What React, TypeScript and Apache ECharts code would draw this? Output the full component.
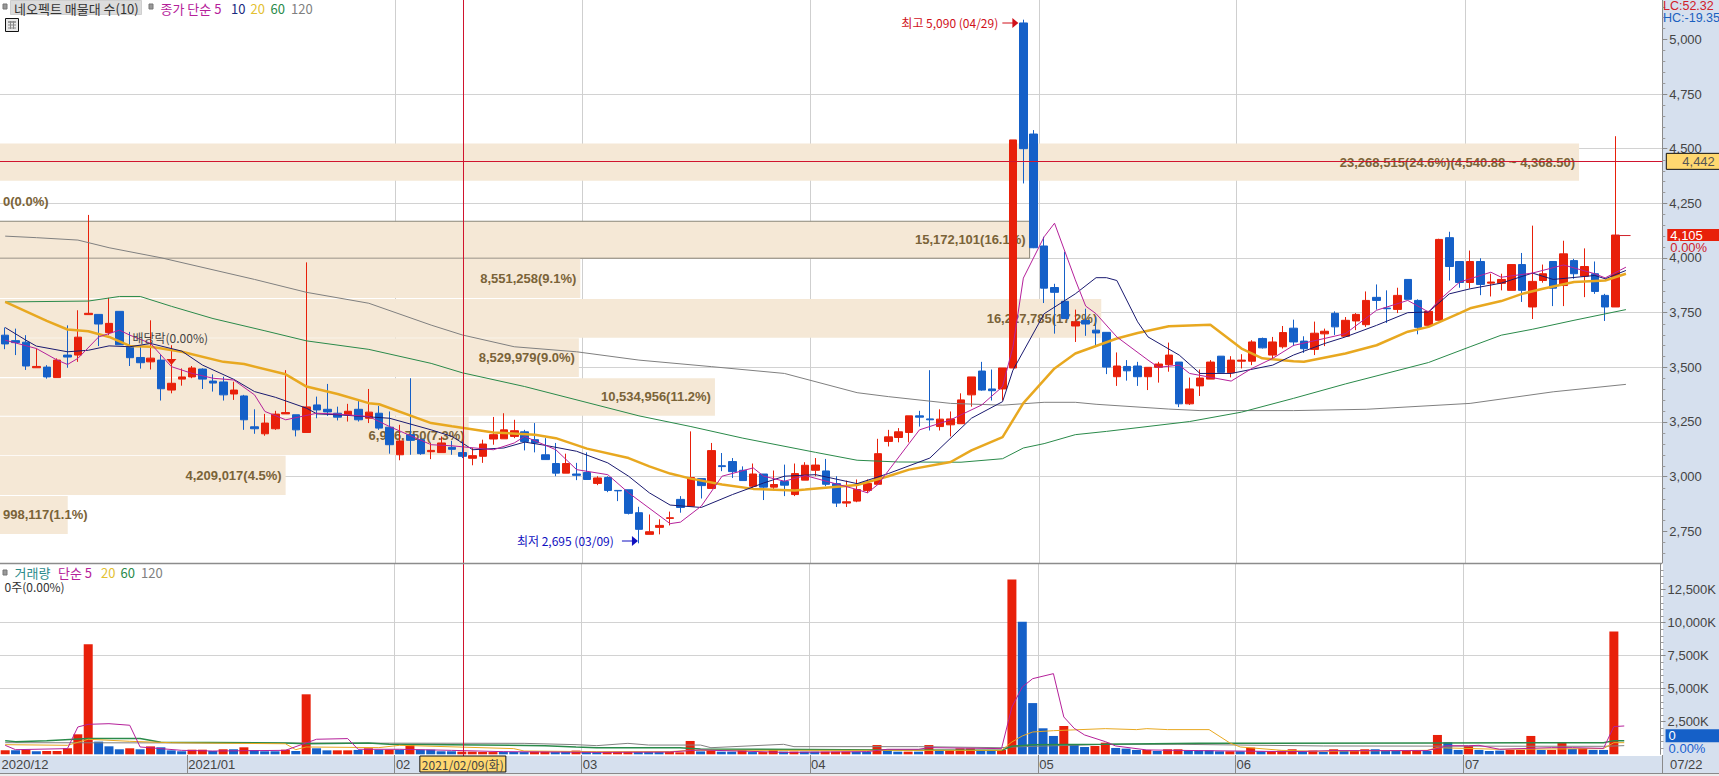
import React, { useEffect, useRef } from "react";
import * as echarts from "echarts";

// [open, high, low, close], one row per session
const candles: number[][] = [
  [3647,3682,3583,3607],[3622,3677,3556,3613],[3615,3647,3488,3506],[3498,3586,3498,3504],[3501,3510,3448,3456],
  [3453,3541,3453,3533],[3556,3692,3498,3547],[3556,3761,3525,3638],[3741,4197,3741,3747],[3742,3742,3597,3698],
  [3659,3818,3647,3701],[3756,3756,3603,3603],[3592,3662,3506,3544],[3545,3601,3494,3521],[3525,3715,3490,3542],
  [3533,3556,3348,3402],[3396,3601,3381,3427],[3446,3495,3416,3456],[3456,3506,3450,3497],[3492,3495,3401,3446],
  [3437,3468,3389,3428],[3433,3457,3348,3374],[3378,3434,3351,3396],[3369,3374,3214,3260],[3228,3308,3196,3219],
  [3196,3287,3187,3245],[3219,3301,3214,3286],[3287,3487,3287,3293],[3283,3283,3184,3214],[3202,3980,3202,3319],
  [3328,3366,3267,3305],[3308,3424,3278,3296],[3290,3320,3257,3272],[3283,3333,3252,3299],[3308,3351,3252,3260],
  [3267,3401,3245,3295],[3290,3324,3214,3222],[3226,3298,3105,3146],[3100,3237,3075,3163],[3192,3450,3100,3166],
  [3169,3176,3100,3105],[3114,3154,3080,3120],[3110,3184,3110,3154],[3134,3164,3100,3125],[3110,3161,3085,3093],
  [3084,3131,3052,3096],[3093,3169,3063,3149],[3172,3273,3146,3192],[3173,3290,3173,3214],[3184,3260,3176,3210],
  [3205,3214,3120,3161],[3169,3245,3111,3154],[3100,3176,3078,3078],[3060,3154,3002,3016],[3016,3105,3016,3060],
  [3012,3063,2984,3006],[3019,3111,2987,2987],[2969,3002,2961,2994],[2996,3002,2929,2937],[2937,2937,2888,2935],
  [2940,2940,2827,2832],[2835,2862,2695,2759],[2736,2827,2736,2748],[2768,2805,2736,2777],[2809,2840,2777,2812],
  [2896,2911,2835,2859],[2865,3207,2865,2996],[2991,2991,2900,2959],[2946,3154,2946,3119],[3050,3108,3025,3046],
  [3069,3085,2994,3023],[3029,3047,2982,2982],[2956,3060,2949,3012],[3012,3012,2893,2952],[2952,3028,2937,2964],
  [2978,3055,2911,2961],[2918,3060,2911,3014],[2984,3066,2984,3052],[3029,3085,3002,3053],[3026,3081,2956,2965],
  [2968,3002,2861,2879],[2879,2982,2861,2885],[2888,2987,2883,2941],[2937,2987,2926,2969],[2965,3173,2965,3105],
  [3161,3214,3138,3182],[3179,3222,3157,3205],[3202,3278,3157,3278],[3278,3301,3229,3272],[3264,3487,3211,3260],
  [3229,3308,3211,3263],[3237,3298,3184,3264],[3242,3381,3242,3351],[3374,3456,3320,3456],[3483,3525,3393,3396],
  [3401,3490,3348,3393],[3401,3497,3348,3497],[3497,4540,3497,4540],[5075,5090,4341,4500],[4567,4585,4045,4047],
  [4055,4097,3794,3862],[3865,3882,3654,3843],[3802,4029,3723,3723],[3689,3764,3616,3708],[3714,3768,3644,3698],
  [3670,3730,3598,3657],[3660,3660,3469,3501],[3457,3568,3415,3506],[3504,3533,3439,3484],[3506,3525,3415,3457],
  [3457,3500,3396,3500],[3500,3525,3430,3515],[3512,3613,3480,3556],[3524,3524,3318,3333],[3333,3453,3328,3401],
  [3415,3490,3369,3451],[3446,3533,3446,3524],[3551,3551,3477,3477],[3475,3551,3454,3533],[3528,3560,3495,3533],
  [3528,3624,3510,3616],[3632,3636,3586,3589],[3556,3639,3541,3616],[3594,3689,3586,3659],[3679,3718,3597,3616],
  [3620,3642,3566,3585],[3582,3709,3556,3656],[3653,3677,3597,3665],[3747,3756,3648,3685],[3642,3730,3642,3715],
  [3712,3748,3670,3742],[3695,3847,3685,3806],[3820,3879,3764,3806],[3771,3852,3703,3768],[3765,3864,3748,3829],
  [3902,3902,3811,3811],[3806,3811,3651,3683],[3692,3756,3685,3756],[3715,4088,3715,4085],[4093,4120,3897,3961],
  [3984,3984,3864,3888],[3888,4034,3861,3984],[3984,3999,3830,3879],[3885,3928,3824,3890],[3884,3928,3852,3902],
  [3852,3970,3852,3970],[3970,4023,3799,3852],[3776,4148,3721,3893],[3897,3970,3887,3928],[3984,3984,3780,3862],
  [3874,4079,3780,4019],[3988,3996,3905,3928],[3917,4044,3821,3961],[3928,3984,3836,3847],[3829,3836,3712,3776],
  [3776,4557,3776,4105],
];

// [session, price] vertices
const ma5: number[][] = [[0,3624],[3,3586],[5,3533],[6,3513],[7,3541],[9,3639],[11,3670],[12,3647],[14,3609],[16,3503],[18,3472],[20,3450],[22,3442],[24,3374],[25,3298],[27,3260],[30,3290],[32,3286],[35,3275],[37,3229],[41,3146],[43,3141],[47,3123],[49,3154],[50,3184],[53,3123],[55,3032],[58,3009],[60,2926],[64,2785],[65,2792],[67,2865],[69,3002],[72,3040],[73,3002],[75,2979],[77,3005],[82,2941],[83,2926],[84,2964],[88,3214],[91,3260],[94,3328],[96,3412],[97,3594],[98,3908],[100,4097],[101,4159],[103,3900],[104,3780],[105,3745],[107,3639],[110,3533],[111,3500],[113,3510],[114,3472],[118,3437],[120,3495],[122,3541],[124,3600],[127,3632],[129,3654],[132,3761],[135,3806],[137,3753],[138,3806],[140,3890],[143,3935],[144,3912],[147,3931],[150,3968],[153,3928],[154,3909],[156,3958]];
const ma10: number[][] = [[0,3682],[2,3624],[3,3597],[6,3571],[8,3578],[10,3598],[12,3594],[14,3609],[17,3574],[19,3510],[22,3445],[24,3389],[26,3363],[29,3313],[30,3287],[32,3283],[37,3267],[41,3214],[43,3184],[44,3154],[45,3123],[48,3131],[50,3158],[52,3143],[55,3116],[58,3063],[60,3002],[62,2926],[64,2870],[67,2859],[70,2918],[72,2953],[73,2971],[75,3002],[78,3009],[82,2968],[85,3014],[89,3085],[93,3267],[96,3343],[97,3487],[100,3745],[103,3836],[105,3910],[106,3910],[107,3897],[109,3708],[110,3639],[113,3556],[115,3472],[118,3472],[122,3510],[124,3556],[127,3609],[129,3639],[132,3692],[135,3750],[137,3753],[139,3836],[141,3859],[144,3885],[147,3931],[149,3902],[153,3920],[154,3905],[156,3943]];
const ma20: number[][] = [[0,3799],[4,3712],[6,3673],[8,3665],[10,3639],[12,3598],[14,3594],[17,3571],[21,3525],[23,3515],[27,3468],[29,3412],[32,3378],[35,3336],[36,3331],[41,3245],[43,3230],[47,3202],[51,3192],[53,3176],[56,3128],[60,3085],[62,3047],[64,3014],[66,2991],[69,2964],[72,2944],[76,2937],[77,2941],[82,2962],[85,3002],[87,3032],[91,3067],[93,3120],[96,3181],[98,3336],[101,3495],[103,3563],[107,3632],[109,3657],[112,3688],[116,3695],[119,3586],[121,3541],[124,3528],[125,3525],[129,3563],[132,3601],[135,3663],[137,3685],[140,3748],[141,3770],[144,3803],[146,3836],[148,3859],[151,3890],[154,3897],[156,3928]];
const ma60: number[][] = [[0,3799],[8,3803],[11,3824],[13,3824],[16,3779],[20,3723],[25,3667],[29,3621],[35,3582],[41,3518],[44,3475],[50,3412],[56,3339],[61,3278],[66,3229],[71,3176],[78,3111],[82,3075],[86,3067],[92,3066],[96,3082],[98,3131],[100,3151],[103,3192],[106,3207],[114,3252],[119,3295],[124,3358],[129,3424],[137,3522],[141,3594],[144,3647],[147,3674],[151,3715],[156,3764]];
const ma120: number[][] = [[0,4100],[3,4093],[7,4082],[10,4047],[15,4001],[24,3902],[29,3843],[35,3793],[41,3693],[44,3648],[49,3594],[55,3571],[61,3533],[68,3503],[75,3472],[82,3384],[85,3366],[91,3335],[96,3327],[100,3340],[103,3340],[105,3331],[112,3309],[115,3302],[124,3302],[131,3308],[141,3335],[149,3388],[156,3422]];

// volume in thousands, and whether the bar was drawn red (R) or blue (B)
const volumes = [
  300,300,350,230,250,250,450,1515,8330,960,
  606,380,455,380,600,530,300,230,350,350,
  250,380,380,530,330,230,230,350,250,4545,
  455,300,300,300,330,455,350,350,350,730,
  350,350,230,230,200,200,180,170,200,170,
  170,200,200,170,200,280,200,180,180,180,
  180,180,180,180,200,150,1010,220,330,200,
  200,330,170,170,330,200,200,200,200,200,
  200,200,200,200,700,330,200,200,200,700,
  330,330,450,450,330,330,330,13250,10050,3880,
  1970,1390,2146,757,555,630,880,480,430,330,
  330,250,380,380,300,300,300,230,230,230,
  505,230,230,280,380,250,280,180,380,250,
  280,380,380,250,250,280,280,250,1465,910,
  330,630,330,250,280,330,330,1390,330,330,
  880,400,450,330,330,9300,
];
const volumeColours =
  "RBRBRRRRRB" + "BBRBRBBBRR" + "BRBRBBBRBR" + "BBRRBRBRBR" + "BBBBRRRRBB" +
  "BRRBBRBBRR" + "RBBBRRRBRB" + "BRBRRBRBBR" + "RRBBRBBRBR" + "BRRRBBRRBB" +
  "BBRBBRRBBB" + "RBRRBBBBRB" + "RBRRRBRBRB" + "RRBBBRRBRB" + "BRBBBRRRBR" + "RBRBBR";

const volMa5: number[][] = [[0,680],[1,350],[6,430],[7,2070],[8,2270],[10,2320],[12,2200],[13,555],[17,300],[20,250],[27,300],[29,860],[30,1140],[33,1190],[34,380],[38,380],[43,300],[48,200],[57,150],[64,170],[66,280],[67,330],[75,150],[83,200],[85,380],[88,380],[89,505],[96,430],[97,3585],[98,5100],[99,5730],[101,6110],[102,2830],[103,1970],[104,1465],[106,960],[107,630],[110,330],[115,280],[124,200],[128,280],[137,280],[138,450],[139,650],[141,650],[142,680],[144,380],[149,505],[151,505],[154,450],[155,2100],[156,2146]];
const volMa20: number[][] = [[0,730],[6,680],[8,1140],[12,985],[16,880],[22,830],[27,800],[28,350],[29,555],[36,505],[38,680],[49,430],[50,250],[57,200],[64,200],[66,300],[96,300],[97,935],[98,1390],[99,1690],[101,1790],[106,1945],[109,1870],[110,1945],[112,1870],[116,1870],[118,860],[119,555],[123,300],[126,230],[137,300],[138,500],[144,380],[154,430],[155,880],[156,880]];
const volMa60: number[][] = [[0,1035],[1,960],[4,1035],[8,1190],[13,1190],[15,910],[27,860],[29,800],[35,860],[37,760],[52,655],[55,555],[57,505],[65,505],[67,400],[85,330],[96,300],[97,605],[99,730],[106,760],[115,830],[138,860],[154,880],[155,1035],[156,1035]];
const volMa120: number[][] = [[0,880],[20,860],[50,830],[55,730],[57,655],[60,830],[62,700],[67,700],[68,500],[75,757],[76,580],[88,580],[96,500],[97,555],[106,757],[113,757],[127,630],[154,605],[156,655]];

const priceTicks = [2750, 3000, 3250, 3500, 3750, 4000, 4250, 4500, 4750, 5000];
const volumeTicks = [2500, 5000, 7500, 10000, 12500];
const priceMinorTicks = [2650,2700,2800,2850,2900,2950,3050,3100,3150,3200,3300,3350,3400,3450,3550,3600,3650,3700,3800,3850,3900,3950,4050,4100,4150,4200,4300,4350,4400,4450,4550,4600,4650,4700,4800,4850,4900,4950,5050,5100,5150];
const volumeMinorTicks = [500,1000,1500,2000,3000,3500,4000,4500,5500,6000,6500,7000,8000,8500,9000,9500,10500,11000,11500,12000,13000,13500,14000];

const monthStarts = [0, 18, 38, 56, 78, 100, 119, 141];
const monthLabels = ["2020/12", "2021/01", "02", "03", "04", "05", "06", "07"];
const lastAxisLabel = "07/22";
const categories = Array.from({ length: 160 }, (_, i) => String(i));

// volume-by-price rows: shares, price at top of row, price at bottom of row, caption
const bandVolumes = [23268515, 0, 15172101, 8551258, 16227785, 8529979, 10534956, 6906750, 4209017, 998117];
const bandTops = [4524, 4352, 4168, 3996, 3812, 3633, 3450, 3274, 3096, 2912];
const bandBottoms = [4353, 4169, 3999, 3817, 3635, 3456, 3279, 3099, 2916, 2738];
const bandLabels = [
  "23,268,515(24.6%)(4,540.88 ~ 4,368.50)", "0(0.0%)", "15,172,101(16.1%)", "8,551,258(9.1%)",
  "16,227,785(17.2%)", "8,529,979(9.0%)", "10,534,956(11.2%)", "6,906,750(7.3%)", "4,209,017(4.5%)", "998,117(1.1%)",
];
const crossIndex = 44;
const crossPrice = 4442;
const lastIndex = 155;
const lastPrice = 4105;
const highPoint = [98, 5090];
const lowPoint = [61, 2695];
const dividendPoint = [16, 3601];

const RED = "#e8200a";
const BLUE = "#1560c8";
const STRIP = "#d6e0ee";
const NARROW = '"Liberation Sans Narrow","Liberation Sans",sans-serif';
const KR = '"Noto Sans CJK KR",sans-serif';
const fmt = (v: number) => Math.round(v).toLocaleString("en-US");

function txt(text: string, x: number, y: number, fill: string, font: string, align = "left") {
  return { type: "text", silent: true, z: 50, style: { text, x, y, fill, font, align, textAlign: align, verticalAlign: "middle", textVerticalAlign: "middle" } };
}

function lineSeries(name: string, data: number[][], color: string, width: number, x: number, y: number, z = 6) {
  return { name, type: "line", data, xAxisIndex: x, yAxisIndex: y, showSymbol: false, symbol: "none", silent: true, z, lineStyle: { color, width }, itemStyle: { color } };
}

function minorTickSeries(values: number[], axis: number) {
  return {
    type: "custom", xAxisIndex: axis, yAxisIndex: axis, z: 25, silent: true,
    encode: { x: 0, y: 1 },
    data: values.map((v) => [0, v]),
    renderItem(params: any, api: any) {
      const y = Math.round(api.coord([0, api.value(1)])[1]) + 0.5;
      const right = params.coordSys.x + params.coordSys.width;
      return { type: "line", shape: { x1: right, y1: y, x2: right + 3, y2: y }, style: { stroke: "#9a9a9a", lineWidth: 1 } };
    },
  };
}

function buildOption() {
  const graphic: any[] = [
    { type: "rect", silent: true, z: -5, shape: { x: 1663, y: 0, width: 56, height: 776 }, style: { fill: STRIP } },
    { type: "rect", silent: true, z: -5, shape: { x: 0, y: 756, width: 1719, height: 17 }, style: { fill: STRIP } },
    { type: "rect", silent: true, z: -4, shape: { x: 0, y: 773, width: 1719, height: 3 }, style: { fill: "#ececec" } },
    { type: "line", silent: true, z: -3, shape: { x1: 0, y1: 773.5, x2: 1719, y2: 773.5 }, style: { stroke: "#8a8a8a", lineWidth: 1 } },
    { type: "line", silent: true, z: 40, shape: { x1: 0, y1: 563.5, x2: 1662, y2: 563.5 }, style: { stroke: "#8c8c8c", lineWidth: 1.5 } },
    { type: "line", silent: true, z: 1, shape: { x1: 1662.5, y1: 755, x2: 1662.5, y2: 773 }, style: { stroke: "#8a8a8a", lineWidth: 1 } },
    { type: "rect", silent: true, z: 40, shape: { x: 3, y: 4, width: 4, height: 5 }, style: { fill: "#999", stroke: "#777" } },
    { type: "rect", silent: true, z: 40, shape: { x: 10.5, y: 0.5, width: 131, height: 14 }, style: { fill: "#dcdcdc", stroke: "#cfcfcf" } },
    txt("네오펙트 매물대 수(10)", 14, 8, "#333", "13px " + KR),
    { type: "rect", silent: true, z: 40, shape: { x: 149, y: 4, width: 4, height: 5 }, style: { fill: "#999", stroke: "#777" } },
    txt("종가 단순 5", 160.5, 8, "#b5209a", "13px " + KR),
    txt("10", 231, 8, "#1a2a80", "13px " + KR),
    txt("20", 250.5, 8, "#e3c030", "13px " + KR),
    txt("60", 270.5, 8, "#2a8a4a", "13px " + KR),
    txt("120", 291, 8, "#808080", "13px " + KR),
    { type: "rect", silent: true, z: 40, shape: { x: 5.5, y: 18.5, width: 13, height: 13 }, style: { fill: "#e8e8e8", stroke: "#111", lineWidth: 1 } },
    { type: "line", silent: true, z: 41, shape: { x1: 8, y1: 22, x2: 16, y2: 22 }, style: { stroke: "#555" } },
    { type: "line", silent: true, z: 41, shape: { x1: 8, y1: 25, x2: 16, y2: 25 }, style: { stroke: "#888" } },
    { type: "line", silent: true, z: 41, shape: { x1: 8, y1: 28, x2: 16, y2: 28 }, style: { stroke: "#888" } },
    { type: "line", silent: true, z: 41, shape: { x1: 10.5, y1: 21, x2: 10.5, y2: 29 }, style: { stroke: "#888" } },
    { type: "line", silent: true, z: 41, shape: { x1: 13.5, y1: 21, x2: 13.5, y2: 29 }, style: { stroke: "#888" } },
    { type: "rect", silent: true, z: 40, shape: { x: 3, y: 570, width: 4, height: 5 }, style: { fill: "#999", stroke: "#777" } },
    txt("거래량", 14.5, 572, "#2a8a8a", "13px " + KR),
    txt("단순 5", 58, 572, "#b5209a", "13px " + KR),
    txt("20", 101, 572, "#e3c030", "13px " + KR),
    txt("60", 120.5, 572, "#2a8a4a", "13px " + KR),
    txt("120", 141, 572, "#808080", "13px " + KR),
    txt("0주(0.00%)", 4.5, 586, "#333", "12px " + KR),
    txt("LC:52.32", 1663, 6, "#d0202a", "12.5px " + NARROW),
    txt("HC:-19.35", 1663, 18, "#1a60c0", "12.5px " + NARROW),
    txt(lastAxisLabel, 1670, 764.5, "#444", "13px " + NARROW),
  ];

  const bandSeries = {
    type: "custom", xAxisIndex: 2, yAxisIndex: 0, z: 1, silent: true,
    encode: { x: 0, y: 1 },
    data: bandVolumes.map((v, i) => [v, bandTops[i], bandBottoms[i]]),
    renderItem(params: any, api: any) {
      const i = params.dataIndex;
      const v = api.value(0);
      const a = api.coord([v, api.value(1)]);
      const b = api.coord([v, api.value(2)]);
      const left = params.coordSys.x;
      const children: any[] = [];
      if (v > 0) children.push({ type: "rect", shape: { x: left - 1, y: a[1], width: a[0] - left + 1, height: b[1] - a[1] }, style: i === 2 ? { fill: "#f5e8d6", stroke: "#8b8678", lineWidth: 1 } : { fill: "#f5e8d6" } });
      const narrow = v < 1500000;
      children.push(txt(bandLabels[i], narrow ? 3 : a[0] - 4, (a[1] + b[1]) / 2, "#7a6338", 'bold 13px "Liberation Sans",sans-serif', narrow ? "left" : "right"));
      return { type: "group", children };
    },
  };

  const candleSeries = {
    type: "candlestick", xAxisIndex: 0, yAxisIndex: 0, z: 5, silent: true, barWidth: 8,
    data: candles.map(([o, h, l, c]) => [o, c, l, h]),
    itemStyle: { color: RED, color0: BLUE, borderColor: RED, borderColor0: BLUE, borderWidth: 1 },
  };

  const volumeSeries = {
    type: "bar", xAxisIndex: 1, yAxisIndex: 1, z: 3, silent: true, barWidth: 9,
    data: volumes.map((v, i) => ({ value: v, itemStyle: { color: volumeColours[i] === "R" ? RED : BLUE } })),
  };

  const notes = {
    type: "custom", xAxisIndex: 0, yAxisIndex: 0, z: 12, silent: true,
    encode: { x: 0, y: 1 },
    data: [[highPoint[0], highPoint[1], 0], [lowPoint[0], lowPoint[1], 1], [dividendPoint[0], dividendPoint[1], 2], [lastIndex, lastPrice, 3]],
    renderItem(params: any, api: any) {
      const kind = api.value(2);
      const p = api.coord([api.value(0), api.value(1)]);
      if (kind === 0) {
        const c = "#d0101a";
        return { type: "group", children: [
          txt("최고 5,090 (04/29)", p[0] - 122, 22, c, "12px " + KR),
          { type: "line", shape: { x1: p[0] - 21, y1: 23, x2: p[0] - 9, y2: 23 }, style: { stroke: c, lineWidth: 1 } },
          { type: "polygon", shape: { points: [[p[0] - 11, 18], [p[0] - 5, 23], [p[0] - 11, 28]] }, style: { fill: c } },
        ] };
      }
      if (kind === 1) {
        const c = "#1010c0";
        const y = 540;
        return { type: "group", children: [
          txt("최저 2,695 (03/09)", p[0] - 122, y, c, "12px " + KR),
          { type: "line", shape: { x1: p[0] - 17, y1: y + 1, x2: p[0] - 5, y2: y + 1 }, style: { stroke: c, lineWidth: 1 } },
          { type: "polygon", shape: { points: [[p[0] - 7, y - 4], [p[0] - 1, y + 1], [p[0] - 7, y + 6]] }, style: { fill: c } },
        ] };
      }
      if (kind === 2) {
        return { type: "group", children: [
          txt("배당락(0.00%)", p[0] - 39, 337, "#444", "12px " + KR),
          { type: "polygon", shape: { points: [[p[0] - 5, 359], [p[0] + 5, 359], [p[0], 365]] }, style: { fill: RED } },
        ] };
      }
      return { type: "line", shape: { x1: p[0], y1: p[1] + 0.5, x2: p[0] + 15, y2: p[1] + 0.5 }, style: { stroke: "#d0202a", lineWidth: 1 } };
    },
  };

  const crosshair = {
    type: "custom", xAxisIndex: 0, yAxisIndex: 0, z: 20, silent: true,
    encode: { x: 0, y: 1 },
    data: [[crossIndex, crossPrice]],
    renderItem(params: any, api: any) {
      const p = api.coord([api.value(0), api.value(1)]);
      const cs = params.coordSys;
      const x = Math.round(p[0]) + 1.5;
      const y = Math.round(p[1]) + 0.5;
      return { type: "group", children: [
        { type: "line", shape: { x1: x, y1: 0, x2: x, y2: 756 }, style: { stroke: "#d0142e", lineWidth: 1 } },
        { type: "line", shape: { x1: 0, y1: y, x2: cs.x + cs.width, y2: y }, style: { stroke: "#d0142e", lineWidth: 1 } },
      ] };
    },
  };

  const priceTags = {
    type: "custom", xAxisIndex: 0, yAxisIndex: 0, z: 30, silent: true,
    encode: { x: 0, y: 1 },
    data: [[crossIndex, crossPrice, 0], [lastIndex, lastPrice, 1]],
    renderItem(params: any, api: any) {
      const y = api.coord([api.value(0), api.value(1)])[1];
      const right = params.coordSys.x + params.coordSys.width;
      if (api.value(2) === 0) {
        return { type: "group", children: [
          { type: "rect", shape: { x: right + 4, y: y - 8, width: 60, height: 16 }, style: { fill: "#ffd870", stroke: "#111", lineWidth: 1 } },
          txt(fmt(api.value(1)), right + 20, y, "#555", "13px " + NARROW),
        ] };
      }
      return { type: "group", children: [
        { type: "rect", shape: { x: right + 5, y: y - 6, width: 60, height: 12 }, style: { fill: RED } },
        txt(fmt(api.value(1)), right + 8, y, "#fff", "13px " + NARROW),
        txt("0.00%", right + 8, y + 12, "#d0202a", "13px " + NARROW),
      ] };
    },
  };

  const volumeTags = {
    type: "custom", xAxisIndex: 1, yAxisIndex: 1, z: 30, silent: true,
    encode: { x: 0, y: 1 },
    data: [[lastIndex, 0]],
    renderItem(params: any, api: any) {
      const y = api.coord([api.value(0), api.value(1)])[1];
      const right = params.coordSys.x + params.coordSys.width;
      return { type: "group", children: [
        { type: "rect", shape: { x: right + 5, y: y - 25, width: 60, height: 13 }, style: { fill: BLUE } },
        txt("0", right + 8, y - 18.5, "#fff", "13px " + NARROW),
        txt("0.00%", right + 8, y - 6, "#1a60d0", "13px " + NARROW),
      ] };
    },
  };

  const monthAxisText = {
    type: "custom", xAxisIndex: 1, yAxisIndex: 1, z: 30, silent: true,
    encode: { x: 0, y: 1 },
    data: monthStarts.map((m, i) => [m, 0, i]),
    renderItem(params: any, api: any) {
      const i = api.value(2);
      const c = api.coord([api.value(0), 0]);
      const x = c[0] - api.size([1, 0])[0] / 2;
      const children: any[] = [txt(monthLabels[i], x + 1.5, 764.5, "#444", "13px " + NARROW)];
      if (i > 0) children.push({ type: "line", shape: { x1: Math.round(x) + 0.5, y1: 755, x2: Math.round(x) + 0.5, y2: 773 }, style: { stroke: "#8a8a8a", lineWidth: 1 } });
      return { type: "group", children };
    },
  };

  const dateBox = {
    type: "custom", xAxisIndex: 1, yAxisIndex: 1, z: 35, silent: true,
    encode: { x: 0, y: 1 },
    data: [[crossIndex, 0]],
    renderItem(params: any, api: any) {
      const x = api.coord([api.value(0), 0])[0];
      return { type: "group", children: [
        { type: "rect", shape: { x: x - 42, y: 756, width: 86, height: 16 }, style: { fill: "#ffd870", stroke: "#111", lineWidth: 1 } },
        txt("2021/02/09(화)", x - 40, 764, "#444", "12px " + KR),
      ] };
    },
  };

  const catAxis = (gridIndex: number) => ({
    type: "category", gridIndex, data: categories, boundaryGap: true,
    axisLine: { show: false, onZero: false }, axisTick: { show: false }, axisLabel: { show: false },
    splitLine: { show: true, showMinLine: false, showMaxLine: false, interval: (i: number) => monthStarts.indexOf(i) > 0, lineStyle: { color: "#cfcfcf", width: 1 } },
  });
  const labelStyle = { color: "#444", fontFamily: NARROW, fontSize: 13, margin: 7, align: "left" as const };

  return {
    animation: false,
    backgroundColor: "transparent",
    tooltip: { show: false },
    graphic: { elements: graphic },
    grid: [
      { left: 0, top: 0, width: 1662.3, height: 563 },
      { left: 0, top: 564, width: 1662.3, height: 190.3 },
    ],
    xAxis: [
      catAxis(0), catAxis(1),
      { type: "value", gridIndex: 0, min: 0, max: 24495000, show: false, position: "top", axisLine: { onZero: false }, splitLine: { show: false } },
    ],
    yAxis: [
      {
        type: "value", gridIndex: 0, position: "right", min: 2605, max: 5180,
        axisLine: { show: true, onZero: false, lineStyle: { color: "#8a8a8a" } },
        axisTick: { show: true, length: 5, customValues: priceTicks, lineStyle: { color: "#8a8a8a" } },
        axisLabel: { ...labelStyle, customValues: priceTicks, formatter: (v: number) => fmt(v) },
        splitLine: { show: true, showMinLine: false, showMaxLine: false, lineStyle: { color: "#d2d2d2", width: 1 } },
      },
      {
        type: "value", gridIndex: 1, position: "right", min: 0, max: 14417,
        axisLine: { show: true, onZero: false, lineStyle: { color: "#8a8a8a" } },
        axisTick: { show: true, length: 5, customValues: volumeTicks, lineStyle: { color: "#8a8a8a" } },
        axisLabel: { ...labelStyle, customValues: volumeTicks, formatter: (v: number) => fmt(v) + "K" },
        splitLine: { show: true, showMinLine: false, showMaxLine: false, lineStyle: { color: "#d2d2d2", width: 1 } },
      },
    ],
    series: [
      bandSeries,
      candleSeries,
      lineSeries("ma120", ma120, "#808080", 1, 0, 0, 6),
      lineSeries("ma60", ma60, "#2a8a4a", 1, 0, 0, 6),
      lineSeries("ma20", ma20, "#e8a820", 2.5, 0, 0, 7),
      lineSeries("ma10", ma10, "#1a1a70", 1, 0, 0, 8),
      lineSeries("ma5", ma5, "#b5209a", 1, 0, 0, 9),
      volumeSeries,
      lineSeries("vol120", volMa120, "#808080", 1, 1, 1),
      lineSeries("vol60", volMa60, "#2a8a4a", 1.5, 1, 1),
      lineSeries("vol20", volMa20, "#e8a820", 1, 1, 1),
      lineSeries("vol5", volMa5, "#b5209a", 1, 1, 1),
      minorTickSeries(priceMinorTicks, 0),
      minorTickSeries(volumeMinorTicks, 1),
      notes,
      crosshair,
      priceTags,
      volumeTags,
      monthAxisText,
      dateBox,
    ],
  };
}

export default function App() {
  const ref = useRef<HTMLDivElement>(null);
  useEffect(() => {
    document.body.style.margin = "0";
    document.body.style.background = "#fff";
    const chart = echarts.init(ref.current as HTMLDivElement, undefined, { renderer: "svg" });
    chart.setOption(buildOption() as any);
    return () => chart.dispose();
  }, []);
  return <div ref={ref} style={{ width: 1719, height: 776, background: "#fff", overflow: "hidden" }} />;
}
